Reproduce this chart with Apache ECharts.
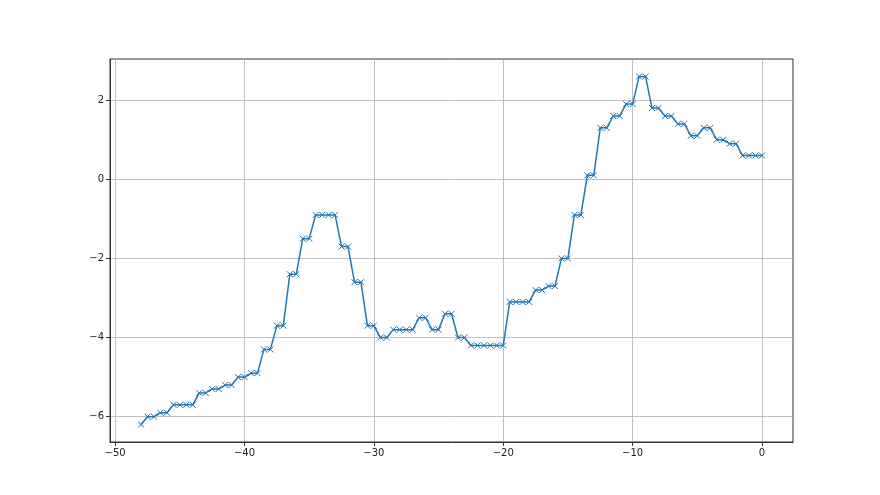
<!DOCTYPE html>
<html>
<head>
<meta charset="utf-8">
<script src="https://cdn.jsdelivr.net/npm/echarts@6/dist/echarts.min.js"></script>
<style>html,body{margin:0;padding:0;background:#fff}#c{width:880px;height:495px}</style>
</head>
<body>
<div id="c"></div>
<script>
var xValues = [-48,-47.5,-47,-46.5,-46,-45.5,-45,-44.5,-44,-43.5,-43,-42.5,-42,-41.5,-41,-40.5,-40,-39.5,-39,-38.5,-38,-37.5,-37,-36.5,-36,-35.5,-35,-34.5,-34,-33.5,-33,-32.5,-32,-31.5,-31,-30.5,-30,-29.5,-29,-28.5,-28,-27.5,-27,-26.5,-26,-25.5,-25,-24.5,-24,-23.5,-23,-22.5,-22,-21.5,-21,-20.5,-20,-19.5,-19,-18.5,-18,-17.5,-17,-16.5,-16,-15.5,-15,-14.5,-14,-13.5,-13,-12.5,-12,-11.5,-11,-10.5,-10,-9.5,-9,-8.5,-8,-7.5,-7,-6.5,-6,-5.5,-5,-4.5,-4,-3.5,-3,-2.5,-2,-1.5,-1,-0.5,0];
var yValues = [-6.2,-6.0,-6.0,-5.9,-5.9,-5.7,-5.7,-5.7,-5.7,-5.4,-5.4,-5.3,-5.3,-5.2,-5.2,-5.0,-5.0,-4.9,-4.9,-4.3,-4.3,-3.7,-3.7,-2.4,-2.4,-1.5,-1.5,-0.9,-0.9,-0.9,-0.9,-1.7,-1.7,-2.6,-2.6,-3.7,-3.7,-4.0,-4.0,-3.8,-3.8,-3.8,-3.8,-3.5,-3.5,-3.8,-3.8,-3.4,-3.4,-4.0,-4.0,-4.2,-4.2,-4.2,-4.2,-4.2,-4.2,-3.1,-3.1,-3.1,-3.1,-2.8,-2.8,-2.7,-2.7,-2.0,-2.0,-0.9,-0.9,0.1,0.1,1.3,1.3,1.6,1.6,1.9,1.9,2.6,2.6,1.8,1.8,1.6,1.6,1.4,1.4,1.1,1.1,1.3,1.3,1.0,1.0,0.9,0.9,0.6,0.6,0.6,0.6];
var xTicks = [-50,-40,-30,-20,-10,0];
var yTicks = [-6,-4,-2,0,2];

var data = xValues.map(function(x, i){ return [x, yValues[i]]; });
function fmt(v){ return String(Math.round(v)).replace('-', '\u2212'); }
var labelStyle = {color:'#222', fontFamily:'DejaVu Sans', fontSize:10};

var chart = echarts.init(document.getElementById('c'), null, {renderer:'canvas'});
chart.setOption({
  animation:false,
  backgroundColor:'#fff',
  grid:{left:110, right:87, top:59, bottom:53, show:true, borderColor:'#333', borderWidth:1, backgroundColor:'transparent'},
  xAxis:{
    type:'value', min:-50.4, max:2.4,
    axisLine:{show:true, onZero:false, lineStyle:{color:'#333', width:1}},
    axisTick:{show:true, length:4, inside:false, customValues:xTicks, lineStyle:{color:'#333', width:1}},
    axisLabel:Object.assign({margin:6, customValues:xTicks, formatter:fmt}, labelStyle),
    splitLine:{show:true, lineStyle:{color:'#b0b0b0', width:0.8}}
  },
  yAxis:{
    type:'value', min:-6.64, max:3.04,
    axisLine:{show:true, onZero:false, lineStyle:{color:'#333', width:1}},
    axisTick:{show:true, length:4, inside:false, customValues:yTicks, lineStyle:{color:'#333', width:1}},
    axisLabel:Object.assign({margin:6, customValues:yTicks, formatter:fmt}, labelStyle),
    splitLine:{show:true, lineStyle:{color:'#b0b0b0', width:0.8}}
  },
  series:[{
    type:'line',
    data:data,
    showAllSymbol:true,
    symbol:'path://M0,0L10,10M10,0L0,10',
    symbolSize:6,
    lineStyle:{color:'#1f77b4', width:1.5},
    itemStyle:{color:'#1f77b4', borderColor:'#1f77b4', borderWidth:1},
    emphasis:{disabled:true}
  }]
});
</script>
</body>
</html>
